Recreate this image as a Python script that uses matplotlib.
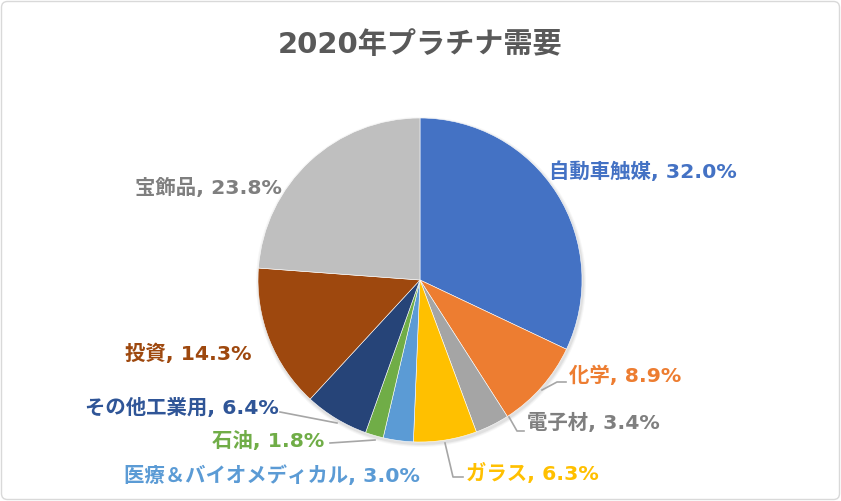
import matplotlib.pyplot as plt
from matplotlib.patches import FancyBboxPatch, Circle

# DejaVu first for the wide Latin glyphs, Noto CJK for the kana/kanji
plt.rcParams['font.family'] = ['DejaVu Sans', 'Noto Sans CJK JP']

# data
labels = ['自動車触媒', '化学', '電子材', 'ガラス', '医療＆バイオメディカル',
          '石油', 'その他工業用', '投資', '宝飾品']
shares = [32.0, 8.9, 3.4, 6.3, 3.0, 1.8, 6.4, 14.3, 23.8]
colors = ['#4472C4', '#ED7D31', '#A5A5A5', '#FFC000', '#5B9BD5',
          '#70AD47', '#264478', '#9E480E', '#BFBFBF']
text_colors = ['#4472C4', '#ED7D31', '#7F7F7F', '#FFC000', '#5B9BD5',
               '#70AD47', '#2F5597', '#9E480E', '#7F7F7F']

W, H = 841, 501
fig = plt.figure(figsize=(W / 100, H / 100), dpi=100)
ax = fig.add_axes([0, 0, 1, 1])
ax.set_xlim(0, W)
ax.set_ylim(0, H)
ax.axis('off')

# chart border
ax.add_patch(FancyBboxPatch((1.5, 1.5), W - 3, H - 3, boxstyle='round,pad=0,rounding_size=6',
                            fc='white', ec='#D9D9D9', lw=1))

cx, cy, r = 420, H - 280, 162

# soft shadow
for i, a in enumerate([0.05, 0.04, 0.03]):
    ax.add_patch(Circle((cx + 1, cy - 2), r + 1 + i, fc='black', alpha=a, lw=0, zorder=1))

wedges, _ = ax.pie(shares, colors=colors, startangle=90, counterclock=False,
                   center=(cx, cy), radius=r, frame=True,
                   wedgeprops=dict(edgecolor='white', linewidth=0.4, zorder=2))
ax.set_xlim(0, W)
ax.set_ylim(0, H)
ax.axis('off')

ax.text(W / 2, H - 45, '2020年プラチナ需要', ha='center', va='center',
        fontsize=21, fontweight='bold', color='#595959')

# label positions (left x, center y in px from top)
pos = [(549, 172), (569, 376), (527, 423), (466, 473), (124, 476),
       (212, 441), (85, 408), (125, 354), (135, 188)]
for lab, val, c, (px, py) in zip(labels, shares, text_colors, pos):
    ax.text(px, H - py, f'{lab}, {val:.1f}%', ha='left', va='center',
            fontsize=14.7, fontweight='bold', color=c)

# leader lines
leaders = [
    [(542, 390), (557, 382), (566, 382)],
    [(509, 417), (517, 431), (524, 431)],
    [(445, 443), (453, 477), (463, 477)],
    [(337, 423), (280, 412)],
    [(375, 440), (330, 443)],
]
for pts in leaders:
    ax.plot([p[0] for p in pts], [H - p[1] for p in pts], color='#A6A6A6', lw=1.2, zorder=3)

fig.savefig('out.png', dpi=100)
